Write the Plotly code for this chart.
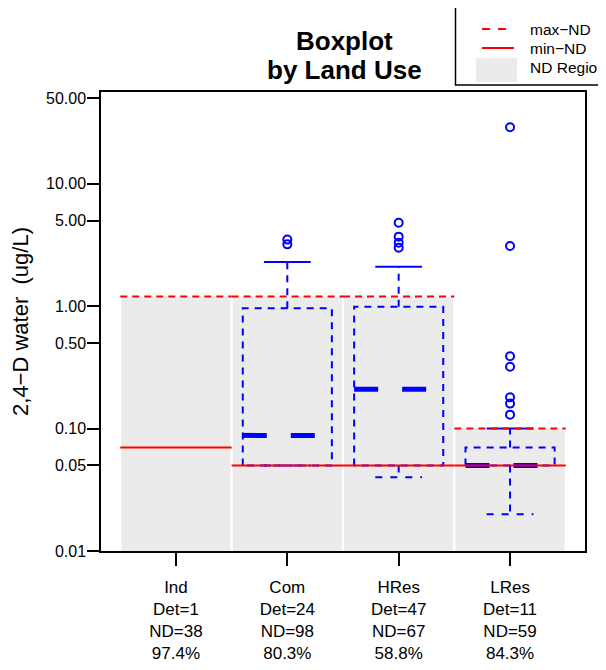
import plotly.graph_objects as go

# ---------------- data ----------------
categories = ["Ind", "Com", "HRes", "LRes"]
det_counts = [1, 24, 47, 11]
nd_counts = [38, 98, 67, 59]
nd_percent = ["97.4%", "80.3%", "58.8%", "84.3%"]
max_nd = [1.2, 1.2, 1.2, 0.1]
min_nd = [0.07, 0.05, 0.05, 0.05]

# box statistics (None where no box is drawn)
lower_whisker = [None, 0.05, 0.04, 0.02]
q1 = [None, 0.05, 0.05, 0.05]
median = [None, 0.088, 0.21, 0.05]
q3 = [None, 0.96, 0.99, 0.07]
upper_whisker = [None, 2.3, 2.1, 0.1]
outliers = {
    "Ind": [],
    "Com": [3.5, 3.2],
    "HRes": [4.8, 3.7, 3.3, 3.0],
    "LRes": [29.0, 3.1, 0.39, 0.32, 0.18, 0.16, 0.13],
}

y_ticks = [0.01, 0.05, 0.1, 0.5, 1, 5, 10, 50]
y_tick_labels = ["0.01", "0.05", "0.10", "0.50", "1.00", "5.00", "10.00", "50.00"]
legend_labels = ["max\u2212ND", "min\u2212ND", "ND Region"]
title_lines = ["Boxplot", "by Land Use"]

# ---------------- style ----------------
FONT = "Liberation Sans, Arial, Helvetica, sans-serif"
BLUE = "#0000FF"
RED = "#FF0000"
GRAY = "#EBEBEB"
REGION_HALF = 0.49
LINE_HALF = 0.5
BOX_HALF = 0.40
CAP_HALF = 0.21
OFF = 8                      # page body margin
W, H = 606 - OFF, 670 - 2 * OFF
ML, MR, MT = 101 - OFF, 21, 92 - OFF
MB = H - (551 - OFF)
PW, PH = W - ML - MR, H - MT - MB

positions = [i + 1 for i in range(len(categories))]

fig = go.Figure()

# ND regions (gray)
gx, gy = [], []
for c, top in zip(positions, max_nd):
    gx += [c - REGION_HALF, c + REGION_HALF, c + REGION_HALF, c - REGION_HALF, c - REGION_HALF, None]
    gy += [0.01, 0.01, top, top, 0.01, None]
fig.add_trace(go.Scatter(x=gx, y=gy, mode="lines", fill="toself", fillcolor=GRAY,
                         line=dict(width=0, color=GRAY), hoverinfo="skip", showlegend=False))

# boxes
bx, by = [], []
wx, wy = [], []
ux, uy = [], []
lx, ly = [], []
mx, my = [], []
for c, lo, a, m, b, hi in zip(positions, lower_whisker, q1, median, q3, upper_whisker):
    if m is None:
        continue
    bx += [c - BOX_HALF, c - BOX_HALF, c + BOX_HALF, c + BOX_HALF, c - BOX_HALF, None]
    by += [a, b, b, a, a, None]
    wx += [c, c, None, c, c, None]
    wy += [b, hi, None, a, lo, None]
    ux += [c - CAP_HALF, c + CAP_HALF, None]
    uy += [hi, hi, None]
    lx += [c - CAP_HALF, c + CAP_HALF, None]
    ly += [lo, lo, None]
    mx += [c - BOX_HALF, c + BOX_HALF, None]
    my += [m, m, None]

fig.add_trace(go.Scatter(x=bx, y=by, mode="lines", line=dict(color=BLUE, width=2, dash="7px,6px"),
                         hoverinfo="skip", showlegend=False))
fig.add_trace(go.Scatter(x=wx, y=wy, mode="lines", line=dict(color=BLUE, width=2, dash="7px,6px"),
                         hoverinfo="skip", showlegend=False))
fig.add_trace(go.Scatter(x=ux, y=uy, mode="lines", line=dict(color=BLUE, width=2),
                         hoverinfo="skip", showlegend=False))
fig.add_trace(go.Scatter(x=lx, y=ly, mode="lines", line=dict(color=BLUE, width=2, dash="7px,8px"),
                         hoverinfo="skip", showlegend=False))
fig.add_trace(go.Scatter(x=mx, y=my, mode="lines", line=dict(color=BLUE, width=5, dash="24px,24px"),
                         hoverinfo="skip", showlegend=False))

# outliers
ox, oy = [], []
for c, name in zip(positions, categories):
    for v in outliers[name]:
        ox.append(c)
        oy.append(v)
fig.add_trace(go.Scatter(x=ox, y=oy, mode="markers",
                         marker=dict(symbol="circle-open", size=8, color=BLUE, line=dict(width=2, color=BLUE)),
                         hoverinfo="skip", showlegend=False))

# max-ND / min-ND lines
rx, ry, sx, sy = [], [], [], []
for c, top, bot in zip(positions, max_nd, min_nd):
    rx += [c - LINE_HALF, c + LINE_HALF, None]
    ry += [top, top, None]
    sx += [c - LINE_HALF, c + LINE_HALF, None]
    sy += [bot, bot, None]
fig.add_trace(go.Scatter(x=rx, y=ry, mode="lines", line=dict(color=RED, width=2, dash="7px,5px"),
                         hoverinfo="skip", showlegend=False))
fig.add_trace(go.Scatter(x=sx, y=sy, mode="lines", line=dict(color=RED, width=2),
                         hoverinfo="skip", showlegend=False))

# ---------------- legend (drawn) ----------------
# helpers take page pixel positions and convert to paper coordinates
def px_x(p):
    return (p - OFF - ML) / PW

def px_y(p):
    return (H - MB - (p - OFF)) / PH

shapes = [
    dict(type="rect", xref="paper", yref="paper", x0=px_x(455.5), x1=px_x(660), y0=px_y(85), y1=px_y(6.5),
         line=dict(color="black", width=1.5), fillcolor="white", layer="above"),
    dict(type="line", xref="paper", yref="paper", x0=px_x(482), x1=px_x(514), y0=px_y(29), y1=px_y(29),
         line=dict(color=RED, width=2, dash="8px,8px")),
    dict(type="line", xref="paper", yref="paper", x0=px_x(482), x1=px_x(514), y0=px_y(48), y1=px_y(48),
         line=dict(color=RED, width=2)),
    dict(type="rect", xref="paper", yref="paper", x0=px_x(476), x1=px_x(517), y0=px_y(82), y1=px_y(58),
         line=dict(width=0), fillcolor=GRAY),
]
annotations = []
for lbl, yy in zip(legend_labels, [29, 48, 68]):
    annotations.append(dict(text=lbl, xref="paper", yref="paper", x=px_x(528), y=px_y(yy),
                            xanchor="left", yanchor="middle", showarrow=False,
                            font=dict(family=FONT, size=15.5, color="black")))
for line, yy in zip(title_lines, [41, 70]):
    annotations.append(dict(text=f"<b>{line}</b>", xref="paper", yref="paper", x=px_x(344), y=px_y(yy),
                            xanchor="center", yanchor="middle", showarrow=False,
                            font=dict(family=FONT, size=26, color="black")))

tick_text = ["<br>".join([n, f"Det={d}", f"ND={k}", p])
             for n, d, k, p in zip(categories, det_counts, nd_counts, nd_percent)]

fig.update_layout(
    width=W, height=H,
    margin=dict(l=ML, r=MR, t=MT, b=MB, autoexpand=False),
    paper_bgcolor="white", plot_bgcolor="white",
    font=dict(family=FONT, color="black"),
    showlegend=False,
    shapes=shapes,
    annotations=annotations,
    xaxis=dict(range=[0.327, 4.673], tickvals=positions, ticktext=tick_text, automargin=False,
               showgrid=False, zeroline=False, showline=True, mirror=True,
               linecolor="black", linewidth=1.5, ticks="outside", ticklen=13, tickwidth=1.5,
               tickcolor="black", tickfont=dict(family=FONT, size=17, color="black"),
               ticklabelstandoff=7),
    yaxis=dict(type="log", range=[-2, 1.75], tickvals=y_ticks, ticktext=y_tick_labels, automargin=False,
               showgrid=False, zeroline=False, showline=True, mirror=True,
               linecolor="black", linewidth=1.5, ticks="outside", ticklen=12, tickwidth=1.5,
               tickcolor="black", tickfont=dict(family=FONT, size=16, color="black"),
               ticklabelstandoff=-2,
               title=dict(text="2,4\u2212D water\u00a0 (ug/L)", font=dict(family=FONT, size=22, color="black"),
                          standoff=15)),
)

fig.write_html("out.html")
